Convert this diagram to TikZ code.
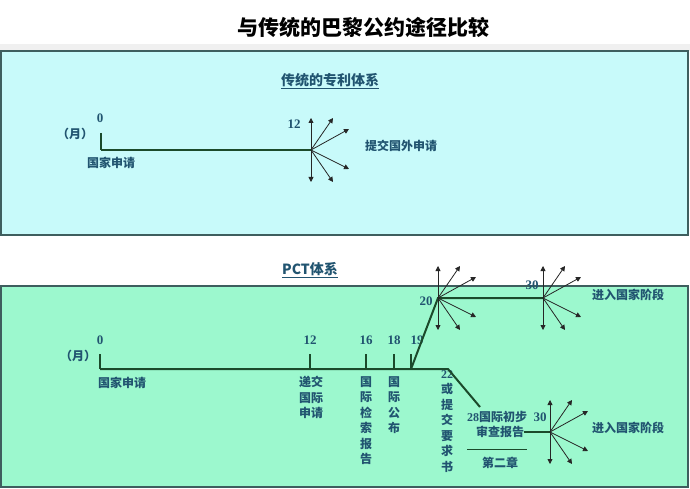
\documentclass[tikz,border=0pt]{standalone}
\usepackage{fontspec}
\setmainfont{Liberation Serif}
\newfontfamily\cjk{Noto Sans CJK SC}
\usetikzlibrary{arrows.meta,calc}
\definecolor{topfill}{HTML}{C8FAFA}
\definecolor{pctfill}{HTML}{9CF8CE}
\definecolor{boxline}{HTML}{3E5E5E}
\definecolor{txt}{HTML}{215470}
\definecolor{tline}{HTML}{1B4A2B}
\begin{document}
\begin{tikzpicture}[x=1pt,y=-1pt,
  lbl/.style={text=txt,inner sep=0pt,font=\cjk\bfseries\fontsize{12}{15.5}\selectfont},
  head/.style={lbl,font=\cjk\bfseries\fontsize{14}{16}\selectfont},
  num/.style={text=txt,inner sep=0pt,font=\bfseries\fontsize{13}{15}\selectfont},
  vlbl/.style={lbl,align=center,anchor=north},
  axis/.style={draw=tline,line width=2pt},
  tick/.style={draw=tline,line width=1.2pt},
  fanarrow/.style={draw=black!85,line width=0.8pt,-{Triangle[length=5pt,width=5pt]}}]
\useasboundingbox (0,0) rectangle (690,489);
\fill[white] (0,0) rectangle (690,489);
\fill[black!6] (0,44) rectangle (690,51);
\draw[boxline,fill=topfill,line width=1.5pt] (1,51) rectangle (688,235);
\draw[boxline,fill=pctfill,line width=1.5pt] (1,286) rectangle (688,487);
\node[font=\cjk\bfseries\fontsize{21}{24}\selectfont] (title) at (363,27) {与传统的巴黎公约途径比较};

% traditional route
\node[head] (head1) at (330,81) {\underline{传统的专利体系}};
\node[lbl] (mon1) at (75,134) {（月）};
\node[num] (t0) at (100,118) {0};
\node[num] (t12) at (294,124) {12};
\node[lbl] (app1) at (111,163) {国家申请};
\node[lbl] (out1) at (401,146) {提交国外申请};
\coordinate (a0t) at (101,133);
\coordinate (a0) at (101,150);
\coordinate (f12) at (311,150);
\draw[tick] (a0t) -- (a0);
\draw[axis] (a0) -- (f12);

% PCT route
\node[head] (head2) at (310,270) {\underline{PCT体系}};
\node[lbl] (mon2) at (78,356) {（月）};
\foreach \m/\x/\lx in {0/100/100,12/310/310,16/366/366,18/394/394,19/411/417}{
  \coordinate (p\m t) at (\x,354);
  \coordinate (p\m) at (\x,369);
  \node[num] (n\m) at (\lx,340) {\m};
  \draw[tick] (p\m t) -- (p\m);}
\coordinate (p22) at (448,369);
\coordinate (p28) at (480,407);
\coordinate (f20) at (438,298);
\coordinate (f30a) at (543,298);
\coordinate (f30b) at (550,432);
\node[num] (n20) at (426,301) {20};
\node[num] (n30a) at (532,285) {30};
\node[num] (n30b) at (540,417) {30};
\node[lbl] (app2) at (122,383) {国家申请};
\node[vlbl] (v12) at (311,376) {递交\\国际\\申请};
\node[vlbl] (v16) at (366,376) {国\\际\\检\\索\\报\\告};
\node[vlbl] (v18) at (394,376) {国\\际\\公\\布};
\node[vlbl] (v22) at (447,370) {{\rmfamily 22}\\或\\提\\交\\要\\求\\书};
\node[lbl] (rep1) at (497,417) {{\rmfamily 28}国际初步};
\node[lbl] (rep2) at (500,432) {审查报告};
\node[lbl] (nat1) at (628,295) {进入国家阶段};
\node[lbl] (nat2) at (628,428) {进入国家阶段};
\node[lbl] (ch) at (500,463) {第二章};
\coordinate (ch1) at (467,449);
\coordinate (ch2) at (527,449);
\draw[draw=tline,line width=0.8pt] (ch1) -- (ch2);
\draw[axis] (p0) -- (p22) -- (p28);
\draw[axis] (p19) -- (f20) -- (f30a);
\draw[axis] (rep2.east) -- (f30b);

% fans of national filings
\foreach \f in {f12,f20,f30a,f30b}
  \foreach \dx/\dy [count=\i] in {0/-32,22/-32,38/-21,38/19,22/32,0/32}{
    \coordinate (\f-\i) at ($(\f)+(\dx,\dy)$);
    \draw[fanarrow] (\f) -- (\f-\i);}
\end{tikzpicture}
\end{document}
